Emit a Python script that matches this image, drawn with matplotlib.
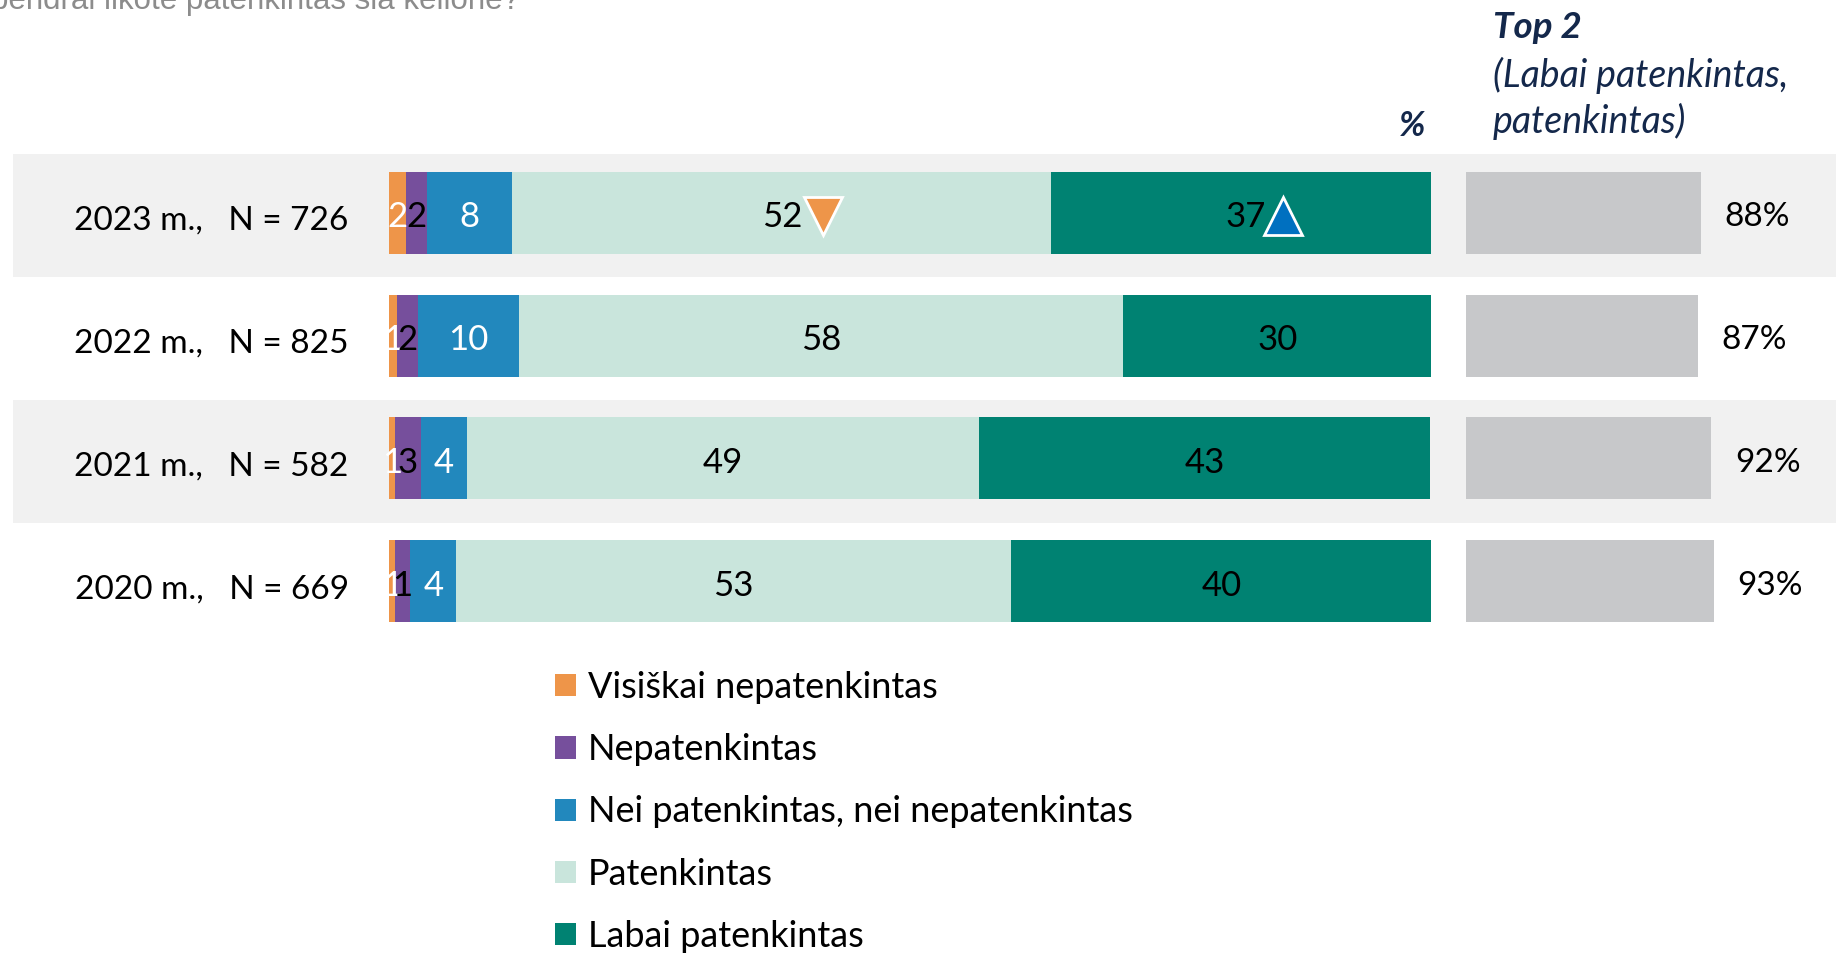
import numpy as np
import matplotlib
matplotlib.use('Agg')
import matplotlib.pyplot as plt
from matplotlib.patches import Rectangle
from matplotlib.transforms import offset_copy, ScaledTranslation

plt.rcParams['font.family'] = ['Lato', 'DejaVu Sans']

# data
years = ['2023 m.,   N = 726', '2022 m.,   N = 825', '2021 m.,   N = 582', '2020 m.,   N = 669']
categories = ['Visiškai nepatenkintas', 'Nepatenkintas', 'Nei patenkintas, nei nepatenkintas',
              'Patenkintas', 'Labai patenkintas']
# segment widths (share of bar), one list per category, rows top to bottom
visiskai_nep = [1.6, 0.8, 0.55, 0.55]
nepatenkintas = [2.0, 2.0, 2.5, 1.5]
nei_nei = [8.2, 9.7, 4.4, 4.4]
patenkintas = [51.7, 57.9, 49.2, 53.2]
labai_pat = [36.6, 29.7, 43.3, 40.5]
# printed values
lbl_visiskai = [2, 1, 1, 1]
lbl_nep = [2, 2, 3, 1]
lbl_nei = [8, 10, 4, 4]
lbl_pat = [52, 58, 49, 53]
lbl_labai = [37, 30, 43, 40]
top2 = [88, 87, 92, 93]

colors = ['#EE9549', '#764F9C', '#2288BD', '#C9E5DC', '#008272']
text_colors = ['white', 'black', 'white', 'black', 'black']

W, H = 1836, 957
fig = plt.figure(figsize=(W / 100, H / 100), dpi=100)

# background axes in pixel coords for the row bands
bg = fig.add_axes([0, 0, 1, 1], zorder=0)
bg.set_xlim(0, W)
bg.set_ylim(H, 0)
bg.axis('off')
for top in (154, 400):
    bg.add_patch(Rectangle((13, top), W - 13, 123, color='#F1F1F1', lw=0))

# question text, cut off at the top of the picture
fig.text(-9 / W, 1 - 9 / H, 'bendrai likote patenkintas šia kelione?', fontsize=22.5,
         color='#8C8C8C', family='Liberation Sans', va='baseline', ha='left')

y0, y1 = 151.5, 642.5
ax = fig.add_axes([389 / W, 1 - y1 / H, 1042 / W, (y1 - y0) / H], zorder=1)
ax.patch.set_alpha(0)

rows = np.arange(len(years))
series = [visiskai_nep, nepatenkintas, nei_nei, patenkintas, labai_pat]
labels = [lbl_visiskai, lbl_nep, lbl_nei, lbl_pat, lbl_labai]
left = np.zeros(len(years))
bh = 0.668
for vals, lbls, col, tc, name in zip(series, labels, colors, text_colors, categories):
    vals = np.array(vals)
    ax.barh(rows, vals, left=left, height=bh, color=col, label=name)
    for r in rows:
        cx = left[r] + vals[r] / 2
        dx = 0
        if r == 0 and lbls is lbl_pat:
            dx = 1
        if r == 0 and lbls is lbl_labai:
            dx = 3
        ax.annotate(str(lbls[r]), (cx, r), xytext=(dx, -1), textcoords='offset points',
                    ha='center', va='center_baseline', fontsize=25, color=tc)
    left += vals

# significance markers on 2023
pat_c = visiskai_nep[0] + nepatenkintas[0] + nei_nei[0] + patenkintas[0] / 2
lab_c = visiskai_nep[0] + nepatenkintas[0] + nei_nei[0] + patenkintas[0] + labai_pat[0] / 2
tr = offset_copy(ax.transData, fig=fig, x=30, y=-2, units='points')
ax.plot([pat_c], [0], marker='v', ms=27, color='#EE9549', mec='white', mew=2, transform=tr)
ax.plot([lab_c], [0], marker='^', ms=27, color='#0070C0', mec='white', mew=2, transform=tr)

ax.set_xlim(0, 100)
ax.set_ylim(len(years) - 0.5, -0.5)
ax.set_yticks(rows)
ax.set_yticklabels(years, fontsize=24, va='center_baseline')
ax.tick_params(axis='y', length=0, pad=29)
shift = ScaledTranslation(0, -5 / 100, fig.dpi_scale_trans)
for t in ax.get_yticklabels():
    t.set_transform(t.get_transform() + shift)
ax.set_xticks([])
for s in ax.spines.values():
    s.set_visible(False)

# Top 2 bars
ax2 = fig.add_axes([1466 / W, 1 - y1 / H, 266.7 / W, (y1 - y0) / H], zorder=1)
ax2.patch.set_alpha(0)
ax2.barh(rows, top2, height=bh, color='#C7C8CA')
for r in rows:
    ax2.annotate(f'{top2[r]}%', (top2[r], r), xytext=(17, -1), textcoords='offset points',
                 ha='left', va='center_baseline', fontsize=24, color='black')
ax2.set_xlim(0, 100)
ax2.set_ylim(len(years) - 0.5, -0.5)
ax2.axis('off')

navy = '#14284B'
fig.text(1412 / W, 1 - 126 / H, '%', fontsize=25, fontweight='bold', fontstyle='italic',
         color=navy, ha='center', va='center')
fig.text(1493 / W, 1 - 28 / H, 'Top 2', fontsize=26.5, fontweight='bold', fontstyle='italic',
         color=navy, ha='left', va='center')
fig.text(1493 / W, 1 - 75 / H, '(Labai patenkintas,', fontsize=27, fontstyle='italic',
         color=navy, ha='left', va='center')
fig.text(1493 / W, 1 - 121 / H, 'patenkintas)', fontsize=27, fontstyle='italic',
         color=navy, ha='left', va='center')

fig.legend(loc='upper left', bbox_to_anchor=(555 / W, 1 - 671 / H), frameon=False,
           fontsize=26, handlelength=0.57, handleheight=0.57, handletextpad=0.34,
           labelspacing=0.81, borderpad=0, borderaxespad=0)

fig.savefig('out.png', dpi=100)
